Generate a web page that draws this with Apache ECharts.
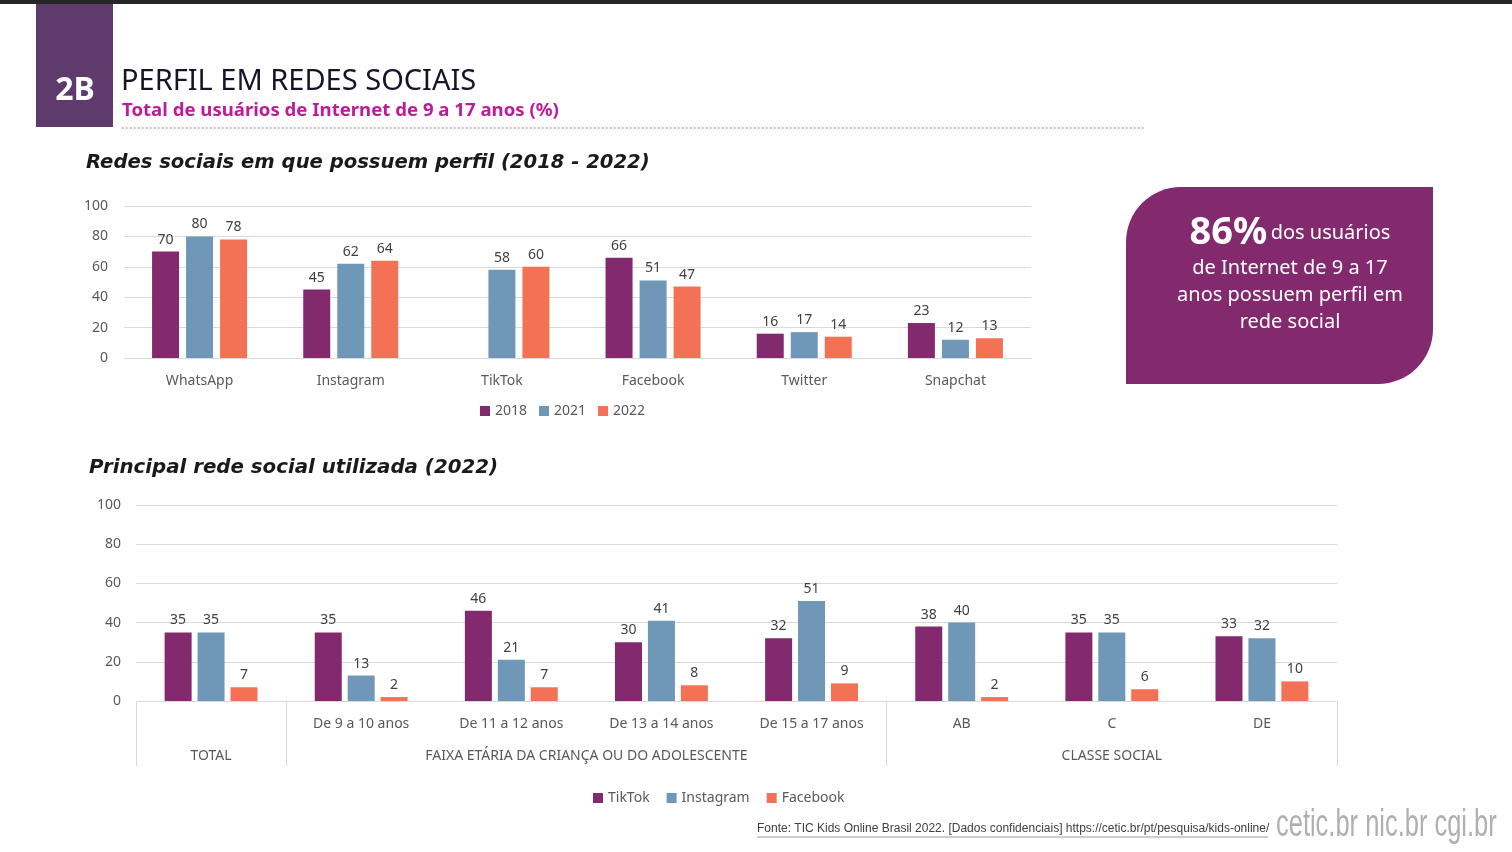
<!DOCTYPE html>
<html>
<head>
<meta charset="utf-8">
<script src="https://cdn.jsdelivr.net/npm/echarts@6/dist/echarts.min.js"></script>
<style>
html,body{margin:0;padding:0;background:#fff;}
#c{width:1512px;height:852px;}
</style>
</head>
<body>
<div id="c"></div>
<script>
// ---- Data: chart 1 ----
const networks = ['WhatsApp', 'Instagram', 'TikTok', 'Facebook', 'Twitter', 'Snapchat'];
const y2018 = [70, 45, null, 66, 16, 23];
const y2021 = [80, 62, 58, 51, 17, 12];
const y2022 = [78, 64, 60, 47, 14, 13];
const years = ['2018', '2021', '2022'];

// ---- Data: chart 2 ----
const segments = ['', 'De 9 a 10 anos', 'De 11 a 12 anos', 'De 13 a 14 anos', 'De 15 a 17 anos', 'AB', 'C', 'DE'];
const tiktok = [35, 35, 46, 30, 32, 38, 35, 33];
const instagram = [35, 13, 21, 41, 51, 40, 35, 32];
const facebook = [7, 2, 7, 8, 9, 2, 6, 10];
const platforms = ['TikTok', 'Instagram', 'Facebook'];
const groupLabels = ['TOTAL', 'FAIXA ETÁRIA DA CRIANÇA OU DO ADOLESCENTE', 'CLASSE SOCIAL'];
const groupStarts = [0, 1, 5];
const groupEnds = [1, 5, 8];

const yTicks = [0, 20, 40, 60, 80, 100];

const C1 = '#832a6f', C2 = '#6f97b8', C3 = '#f37154';
const FONT = '"Noto Sans", "Open Sans", sans-serif';

const chart = echarts.init(document.getElementById('c'));

const groupCenters = groupStarts.map((s, i) => (s + groupEnds[i]) / 2);
const groupBounds = [0].concat(groupEnds);

const labelStyle = {show: true, position: 'top', distance: 5, color: '#404040', fontSize: 14, fontFamily: FONT};

function barSeries(name, data, color, xi, yi, gap) {
  return {
    type: 'bar', name: name, data: data, xAxisIndex: xi, yAxisIndex: yi,
    barWidth: 27, barGap: gap,
    itemStyle: {color: color},
    label: labelStyle,
    emphasis: {disabled: true}
  };
}

const option = {
  animation: false,
  backgroundColor: '#ffffff',
  textStyle: {fontFamily: FONT},
  legend: [
    {data: years, left: 480, top: 404, itemWidth: 10, itemHeight: 10, itemGap: 12, icon: 'rect',
     textStyle: {color: '#595959', fontSize: 14, fontFamily: FONT}, padding: 0},
    {data: platforms, left: 593, top: 791, itemWidth: 10, itemHeight: 10, itemGap: 17, icon: 'rect',
     textStyle: {color: '#595959', fontSize: 14, fontFamily: FONT}, padding: 0}
  ],
  grid: [
    {left: 124, right: 481, top: 206, bottom: 494},
    {left: 136, right: 175, top: 505, bottom: 151}
  ],
  xAxis: [
    {type: 'category', gridIndex: 0, data: networks,
     axisLine: {lineStyle: {color: '#d9d9d9'}}, axisTick: {show: false},
     axisLabel: {color: '#595959', fontSize: 14, margin: 16, fontFamily: FONT}},
    {type: 'category', gridIndex: 1, data: segments,
     axisLine: {lineStyle: {color: '#d9d9d9'}}, axisTick: {show: false},
     axisLabel: {color: '#595959', fontSize: 14, margin: 16, fontFamily: FONT, interval: 0}},
    {type: 'value', gridIndex: 1, min: 0, max: segments.length, position: 'bottom',
     axisLine: {show: false}, splitLine: {show: false},
     axisTick: {show: true, customValues: groupBounds, length: 65, lineStyle: {color: '#d9d9d9'}},
     axisLabel: {customValues: groupCenters, margin: 48, color: '#595959', fontSize: 14, fontFamily: FONT,
       formatter: function (v) { const i = groupCenters.indexOf(v); return i >= 0 ? groupLabels[i] : ''; }}}
  ],
  yAxis: [
    {type: 'value', gridIndex: 0, min: yTicks[0], max: yTicks[yTicks.length - 1], interval: 20,
     axisLine: {show: false}, axisTick: {show: false},
     splitLine: {lineStyle: {color: '#d9d9d9'}},
     axisLabel: {color: '#595959', fontSize: 14, margin: 16, fontFamily: FONT}},
    {type: 'value', gridIndex: 1, min: yTicks[0], max: yTicks[yTicks.length - 1], interval: 20,
     axisLine: {show: false}, axisTick: {show: false},
     splitLine: {lineStyle: {color: '#d9d9d9'}},
     axisLabel: {color: '#595959', fontSize: 14, margin: 15, fontFamily: FONT}}
  ],
  series: [
    barSeries(years[0], y2018, C1, 0, 0, '26%'),
    barSeries(years[1], y2021, C2, 0, 0, '26%'),
    barSeries(years[2], y2022, C3, 0, 0, '26%'),
    barSeries(platforms[0], tiktok, C1, 1, 1, '22%'),
    barSeries(platforms[1], instagram, C2, 1, 1, '22%'),
    barSeries(platforms[2], facebook, C3, 1, 1, '22%')
  ],
  graphic: [
    {type: 'rect', shape: {x: 0, y: 0, width: 1512, height: 4}, style: {fill: '#262626'}, silent: true},
    {type: 'rect', shape: {x: 36, y: 4, width: 77, height: 123}, style: {fill: '#5f3a6c'}, silent: true},
    {type: 'text', x: 75, y: 91, style: {text: '2B', fill: '#ffffff', font: 'bold 32px ' + FONT, textAlign: 'center', textVerticalAlign: 'middle'}},
    {type: 'text', x: 121, y: 82, style: {text: 'PERFIL EM REDES SOCIAIS', fill: '#15152a', font: '29px ' + FONT, textAlign: 'left', textVerticalAlign: 'middle'}},
    {type: 'text', x: 122, y: 111, style: {text: 'Total de usuários de Internet de 9 a 17 anos (%)', fill: '#bf1a9b', font: 'bold 18.6px ' + FONT, textAlign: 'left', textVerticalAlign: 'middle'}},
    {type: 'line', shape: {x1: 122, y1: 128, x2: 1145, y2: 128}, style: {stroke: '#bdbdbd', lineWidth: 2, lineDash: [1.5, 2.5]}, silent: true},
    {type: 'text', x: 86, y: 163, style: {text: 'Redes sociais em que possuem perfil (2018 - 2022)', fill: '#1a1a1a', font: 'italic bold 19.6px "DejaVu Sans", sans-serif', textAlign: 'left', textVerticalAlign: 'middle'}},
    {type: 'text', x: 89, y: 468, style: {text: 'Principal rede social utilizada (2022)', fill: '#1a1a1a', font: 'italic bold 19.8px "DejaVu Sans", sans-serif', textAlign: 'left', textVerticalAlign: 'middle'}},
    {type: 'rect', shape: {x: 1126, y: 187, width: 307, height: 197, r: [55, 0, 55, 0]}, style: {fill: '#832a6f'}, silent: true},
    {type: 'text', x: 1290, y: 211, style: {
      text: '{big|86%} {n|dos usuários}\n{n|de Internet de 9 a 17}\n{n|anos possuem perfil em}\n{n|rede social}',
      textAlign: 'center', textVerticalAlign: 'top', fill: '#ffffff',
      rich: {
        big: {font: 'bold 38px ' + FONT, fill: '#ffffff', lineHeight: 44},
        n: {font: '20px ' + FONT, fill: '#ffffff', lineHeight: 27}
      }}},
    {type: 'text', x: 757, y: 829, style: {text: 'Fonte: TIC Kids Online Brasil 2022. [Dados confidenciais] https://cetic.br/pt/pesquisa/kids-online/', fill: '#404040', font: '12px "Liberation Sans Narrow", sans-serif', textAlign: 'left', textVerticalAlign: 'middle'}},
    {type: 'line', shape: {x1: 757, y1: 837, x2: 1268, y2: 837}, style: {stroke: '#9a9a9a', lineWidth: 1}, silent: true},
    {type: 'text', x: 1276, y: 826, scaleX: 0.67, style: {text: 'cetic.br nic.br cgi.br', fill: '#b0b0b0', font: '38px "Liberation Sans", sans-serif', textAlign: 'left', textVerticalAlign: 'middle'}}
  ]
};

chart.setOption(option);
</script>
</body>
</html>
